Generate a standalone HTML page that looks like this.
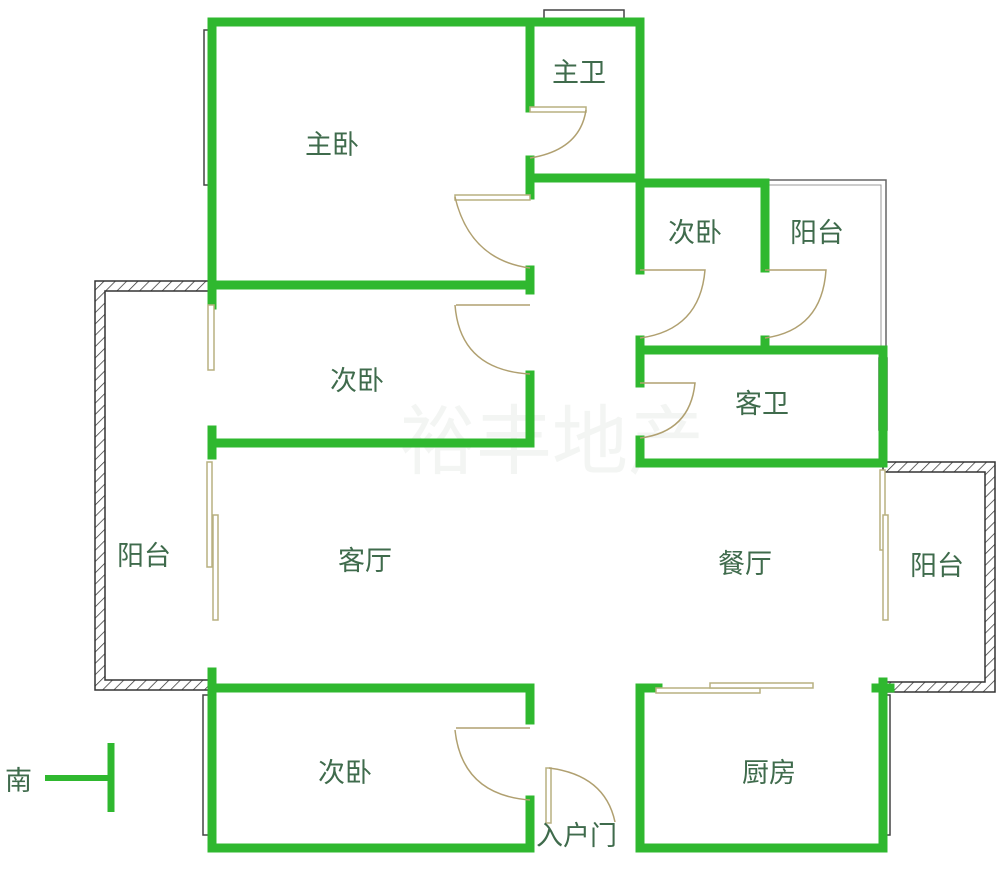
<!DOCTYPE html>
<html><head><meta charset="utf-8"><style>
html,body{margin:0;padding:0;background:#fff;}
svg{display:block}
text{font-family:"Liberation Sans","Noto Sans CJK SC",sans-serif;fill:#3f6b4c;font-size:27px;}
</style></head><body>
<svg width="1000" height="877" viewBox="0 0 1000 877" xmlns="http://www.w3.org/2000/svg">
<defs>
<pattern id="h" width="8" height="8" patternUnits="userSpaceOnUse" patternTransform="rotate(45)">
<line x1="0" y1="0" x2="0" y2="8" stroke="#333" stroke-width="1.5"/></pattern>
</defs>
<!-- watermark -->
<text x="400" y="468" style="font-size:76px;fill:#f3f5f3">裕丰地产</text>
<!-- hatched balconies -->
<path d="M95,281 H212 V291 H105 V680 H212 V690 H95 Z" fill="url(#h)" stroke="#333" stroke-width="1.5"/>
<path d="M883,462 H995 V692 H883 V682 H985 V472 H883 Z" fill="url(#h)" stroke="#333" stroke-width="1.5"/>
<path d="M765,180 H886 V350" fill="none" stroke="#666" stroke-width="1.5"/>
<path d="M765,185 H881 V350" fill="none" stroke="#999" stroke-width="1"/>
<g fill="#fff" stroke="#444" stroke-width="1.5">
<rect x="204" y="30" width="9" height="155"/>
<rect x="544" y="10" width="80" height="12"/>
<rect x="879" y="358" width="8" height="72"/>
<rect x="203" y="695" width="9" height="140"/>
<rect x="882" y="695" width="8" height="140"/>
</g>
<g fill="none" stroke="#2fb82f" stroke-width="9" stroke-linecap="square">
<path d="M212,22 H640 V270"/>
<path d="M212,22 V288"/>
<path d="M530,22 V108"/>
<path d="M530,160 V195"/>
<path d="M530,178 H640"/>
<path d="M530,270 V290"/>
<path d="M212,285 H530"/>
<path d="M212,285 V305"/>
<path d="M640,183 H765 V268"/>
<path d="M765,340 V350"/>
<path d="M640,340 V383"/>
<path d="M640,440 V463"/>
<path d="M640,350 H883 V463 H640"/>
<path d="M530,375 V443 H212"/>
<path d="M212,430 V455"/>
<path d="M212,672 V688 H530 V720"/>
<path d="M530,800 V848 H212 V688"/>
<path d="M658,688 H640 V848 H883 V682"/>
<path d="M876,688 H890"/>
</g>
<g fill="#fff" stroke="#b8b080" stroke-width="1.5">
<rect x="208" y="305" width="6" height="65"/>
<rect x="207" y="462" width="5" height="105"/>
<rect x="213" y="515" width="5" height="105"/>
<rect x="880" y="470" width="5" height="80"/>
<rect x="883" y="515" width="5" height="105"/>
<rect x="656" y="688" width="104" height="5"/>
<rect x="710" y="683" width="103" height="5"/>
<rect x="546" y="768" width="5" height="55"/>
<rect x="530" y="107" width="56" height="5"/>
<rect x="455" y="195" width="75" height="5"/>
</g>
<g fill="none" stroke="#b0a070" stroke-width="1.5">
<path d="M586,110 Q580,150 530,158"/>
<path d="M455,197 Q470,260 530,268"/>
<path d="M455,305 Q460,370 530,374"/>
<path d="M455,730 Q462,795 530,800"/>
<path d="M640,270 H705 Q700,330 640,338"/>
<path d="M765,270 H826 Q822,330 765,338"/>
<path d="M640,383 H695 Q690,432 640,438"/>
<path d="M456,305 H530"/>
<path d="M456,728 H530"/>
<path d="M549,768 Q605,775 615,822"/>
</g>
<text x="305" y="154">主卧</text>
<text x="552" y="82">主卫</text>
<text x="668" y="242">次卧</text>
<text x="790" y="242">阳台</text>
<text x="330" y="390">次卧</text>
<text x="735" y="413">客卫</text>
<text x="117" y="565">阳台</text>
<text x="338" y="570">客厅</text>
<text x="718" y="573">餐厅</text>
<text x="910" y="575">阳台</text>
<text x="318" y="782">次卧</text>
<text x="742" y="782">厨房</text>
<text x="536" y="845">入户门</text>
<text x="5" y="790">南</text>
<line x1="45" y1="778" x2="110" y2="778" stroke="#2fb82f" stroke-width="6"/>
<line x1="111" y1="743" x2="111" y2="812" stroke="#2fb82f" stroke-width="7"/>
</svg>
</body></html>
